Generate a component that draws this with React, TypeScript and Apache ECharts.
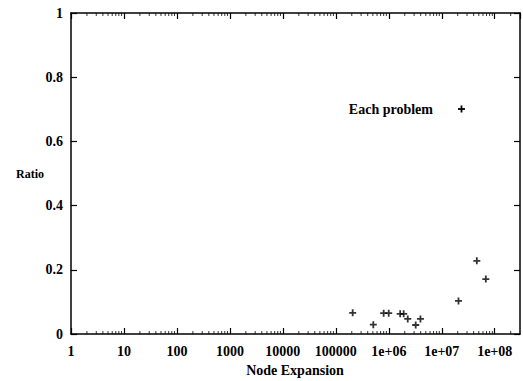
import React, { useEffect, useRef } from "react";
import * as echarts from "echarts";

const nodeExpansion = [2.08e5, 5.1e5, 8.0e5, 9.96e5, 1.64e6, 1.91e6, 2.28e6, 3.22e6, 3.96e6, 2.07e7, 4.59e7, 6.79e7];
const ratio = [0.066, 0.029, 0.065, 0.065, 0.063, 0.063, 0.047, 0.028, 0.047, 0.103, 0.228, 0.171];
const yTicks = [0, 0.2, 0.4, 0.6, 0.8, 1];
const decades = [0, 1, 2, 3, 4, 5, 6, 7, 8];
const minorMultipliers = [2, 3, 4, 5, 6, 7, 8, 9];
const seriesName = "Each problem";
const xName = "Node Expansion";
const yName = "Ratio";
const X_MIN = 1;
const X_MAX = 3e8;

const FONT = "Liberation Serif";
const PLUS = "path://M2.6,0H4.4V2.6H7V4.4H4.4V7H2.6V4.4H0V2.6H2.6Z";

function fmtX(v: number): string {
  const e = Math.round(Math.log10(v));
  if (Math.abs(Math.log10(v) - e) > 1e-6) return "";
  if (e >= 6) return "1e+" + (e < 10 ? "0" + e : String(e));
  return String(Math.round(Math.pow(10, e)));
}

export default function App() {
  const ref = useRef<HTMLDivElement>(null);
  useEffect(() => {
    if (!ref.current) return;
    const chart = echarts.init(ref.current, undefined, { renderer: "svg" });
    const minor: number[] = [];
    decades.forEach((d) => {
      minorMultipliers.forEach((m) => {
        const v = m * Math.pow(10, d);
        if (v < X_MAX) minor.push(v);
      });
    });
    const data = nodeExpansion.map((x, i) => [x, ratio[i]]);
    const axisLine = { show: true, onZero: false, lineStyle: { color: "#000", width: 1.5 } };
    const tickStyle = { show: true, inside: true, length: 6, lineStyle: { color: "#000", width: 1.2 } };
    const labelStyle = { color: "#000", fontFamily: FONT, fontSize: 14, fontWeight: "bold" as const };
    chart.setOption({
      animation: false,
      backgroundColor: "#fff",
      grid: { left: 71, right: 3, top: 13, bottom: 47 },
      xAxis: [
        {
          type: "log",
          logBase: 10,
          min: X_MIN,
          max: X_MAX,
          position: "bottom",
          axisLine,
          axisTick: tickStyle,
          splitLine: { show: false },
          axisLabel: { ...labelStyle, margin: 10, formatter: fmtX, showMaxLabel: false },
        },
        {
          type: "log",
          logBase: 10,
          min: X_MIN,
          max: X_MAX,
          position: "top",
          axisLine,
          axisTick: tickStyle,
          splitLine: { show: false },
          axisLabel: { show: false },
        },
      ],
      yAxis: [
        {
          type: "value",
          min: 0,
          max: 1,
          interval: 0.2,
          position: "left",
          axisLine,
          axisTick: tickStyle,
          splitLine: { show: false },
          axisLabel: { ...labelStyle, margin: 8, formatter: (v: number) => String(Math.round(v * 10) / 10) },
        },
        {
          type: "value",
          min: 0,
          max: 1,
          interval: 0.2,
          position: "right",
          axisLine,
          axisTick: tickStyle,
          splitLine: { show: false },
          axisLabel: { show: false },
        },
      ],
      series: [
        {
          name: seriesName,
          type: "scatter",
          data,
          symbol: PLUS,
          symbolSize: 7,
          itemStyle: { color: "#000" },
          silent: true,
        },
        {
          type: "scatter",
          data: minor.map((v) => [v, yTicks[0]]),
          symbol: "rect",
          symbolSize: [1, 3],
          symbolOffset: [0, -1.5],
          itemStyle: { color: "#000" },
          clip: false,
          silent: true,
        },
        {
          type: "scatter",
          data: minor.map((v) => [v, yTicks[yTicks.length - 1]]),
          symbol: "rect",
          symbolSize: [1, 3],
          symbolOffset: [0, 1.5],
          itemStyle: { color: "#000" },
          clip: false,
          silent: true,
        },
      ],
      graphic: [
        {
          type: "text",
          x: 30,
          y: 174,
          style: { text: yName, fill: "#000", font: `bold 12px "${FONT}"`, align: "center", verticalAlign: "middle" },
        },
        {
          type: "text",
          x: 295,
          y: 370,
          style: { text: xName, fill: "#000", font: `bold 14px "${FONT}"`, align: "center", verticalAlign: "middle" },
        },
        {
          type: "text",
          x: 433,
          y: 109,
          style: { text: seriesName, fill: "#000", font: `bold 14px "${FONT}"`, align: "right", verticalAlign: "middle" },
        },
        {
          type: "rect",
          shape: { x: 458, y: 108.1, width: 7, height: 1.8 },
          style: { fill: "#000" },
        },
        {
          type: "rect",
          shape: { x: 460.6, y: 105.5, width: 1.8, height: 7 },
          style: { fill: "#000" },
        },
      ],
    });
    return () => chart.dispose();
  }, []);
  return (
    <div
      ref={ref}
      style={{ position: "fixed", left: 0, top: 0, width: 523, height: 381, background: "#fff" }}
    />
  );
}
